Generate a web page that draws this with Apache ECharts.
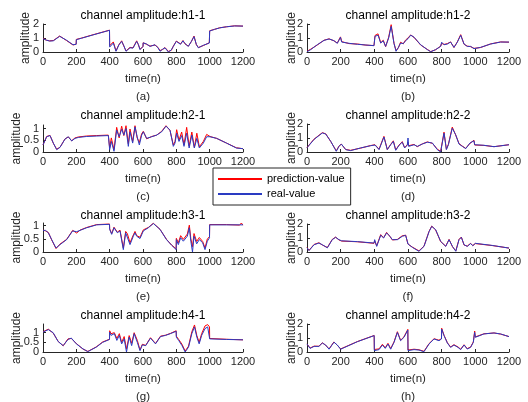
<!DOCTYPE html>
<html>
<head>
<meta charset="utf-8">
<title>channel amplitude</title>
<script src="https://cdn.jsdelivr.net/npm/echarts@6/dist/echarts.min.js"></script>
<style>
	html, body { margin: 0; padding: 0; background: #fff; }
	#main { width: 528px; height: 402px; }
</style>
</head>
<body>
<div id="main"></div>
<script>
// 子图标题与编号
var titles = ["channel amplitude:h1-1", "channel amplitude:h1-2", "channel amplitude:h2-1", "channel amplitude:h2-2",
	"channel amplitude:h3-1", "channel amplitude:h3-2", "channel amplitude:h4-1", "channel amplitude:h4-2"];
var captions = ["(a)", "(b)", "(c)", "(d)", "(e)", "(f)", "(g)", "(h)"];
var seriesNames = ["prediction-value", "real-value"];

// 刻度
var xTicks = [0, 200, 400, 600, 800, 1000, 1200];
var yTicksWhole = [0, 1, 2];
var yTicksHalf = [0, 0.5, 1];
var yMaxList = [2, 2, 1.15, 2, 1.1, 2, 1.45, 2];

// h1-1
var tA = [0,20,40,62,100,140,180,199,200,230,300,399,400,410,422,438,455,472,485,498,510,522,540,562,572,582,600,601,620,642,672,690,702,718,732,752,770,782,800,812,825,840,852,872,890,906,920,932,962,998,1000,1030,1060,1100,1150,1200];
var realA = [0.95,0.85,0.78,0.80,1.12,0.85,0.52,0.55,0.88,0.98,1.22,1.55,0.35,0.40,0.64,0.05,0.50,0.76,0.45,0.05,0.15,0.30,0.28,0.76,0.55,0.17,0.40,0.65,0.58,0.40,0.52,0.30,0.05,0.20,0.30,0.00,0.15,0.40,0.76,0.70,0.55,0.80,0.60,0.40,0.75,1.10,0.55,0.30,0.48,0.64,1.50,1.62,1.72,1.80,1.86,1.85];
var predA = [0.98,0.84,0.80,0.82,1.14,0.83,0.50,0.56,0.90,0.99,1.23,1.56,0.45,0.52,0.72,0.08,0.52,0.80,0.42,0.08,0.12,0.33,0.30,0.80,0.52,0.20,0.38,0.66,0.56,0.42,0.50,0.32,0.10,0.18,0.32,0.04,0.12,0.42,0.78,0.68,0.58,0.82,0.58,0.42,0.74,1.14,0.52,0.32,0.46,0.66,1.52,1.62,1.73,1.80,1.87,1.85];

// h1-2
var tB = [0,10,22,61,101,131,160,180,199,206,250,300,350,398,404,422,438,453,467,485,500,517,529,543,556,572,586,600,616,636,675,715,735,764,794,800,814,834,853,873,893,913,933,952,972,992,1031,1091,1150,1200];
var realB = [0.02,0.10,0.17,0.52,0.83,0.93,0.81,0.62,1.05,0.71,0.62,0.55,0.50,0.45,1.12,1.20,0.64,0.80,0.40,1.00,1.83,0.60,0.05,0.33,0.64,0.60,0.81,0.95,1.20,1.06,0.52,0.17,0.02,0.17,0.40,0.70,0.52,0.57,0.71,0.33,0.70,1.20,0.57,0.40,0.40,0.24,0.33,0.57,0.71,0.71];
var predB = [0.05,0.08,0.20,0.50,0.84,0.94,0.80,0.64,1.08,0.74,0.60,0.57,0.49,0.46,1.18,1.30,0.66,0.84,0.38,1.05,1.95,0.62,0.10,0.30,0.70,0.58,0.86,1.00,1.22,1.04,0.50,0.18,0.03,0.16,0.42,0.62,0.54,0.60,0.72,0.32,0.72,1.24,0.55,0.42,0.38,0.26,0.32,0.58,0.72,0.70];

// h2-1
var tC = [0,22,42,62,82,102,132,152,172,192,212,260,320,392,400,410,426,442,457,472,485,498,512,522,538,552,565,578,592,602,622,652,682,712,738,762,782,792,802,816,832,846,862,877,893,908,923,938,962,982,1002,1042,1101,1160,1200];
var realC = [0.30,0.65,0.70,0.38,0.10,0.20,0.55,0.65,0.47,0.58,0.62,0.66,0.68,0.70,0.10,0.45,0.03,0.93,0.65,0.97,0.72,1.00,0.24,0.86,0.38,1.07,0.65,0.30,0.72,0.86,0.58,0.65,0.72,0.86,1.10,0.93,0.24,0.38,0.80,0.45,0.70,0.24,0.80,0.17,0.72,0.17,0.58,0.17,0.38,0.65,0.65,0.58,0.38,0.17,0.14];
var predC = [0.30,0.66,0.71,0.37,0.12,0.20,0.56,0.64,0.48,0.60,0.64,0.68,0.70,0.72,0.18,0.60,0.10,1.05,0.60,1.10,0.70,1.12,0.35,0.98,0.45,1.12,0.60,0.40,0.78,0.88,0.56,0.66,0.72,0.88,1.12,0.92,0.30,0.45,0.95,0.50,0.85,0.30,1.05,0.25,0.85,0.20,0.80,0.22,0.45,0.75,0.66,0.58,0.38,0.18,0.14];

// h2-2
var tD = [0,42,91,111,141,174,190,204,230,259,319,378,404,428,457,477,497,513,527,547,566,580,596,600,604,612,636,655,685,715,745,774,794,814,828,840,863,883,903,923,943,968,992,996,1051,1111,1200];
var realD = [0.30,0.90,1.36,1.29,0.76,0.05,0.40,0.57,0.17,0.10,0.29,0.45,0.50,0.17,1.07,0.17,0.52,0.76,0.12,0.48,0.70,0.29,0.50,1.00,0.40,0.40,0.52,0.40,0.57,0.70,0.64,0.17,0.00,1.35,0.17,0.52,1.70,1.24,0.57,0.40,0.24,0.64,0.80,0.52,0.48,0.38,0.52];
var predD = [0.32,0.92,1.38,1.30,0.75,0.08,0.42,0.56,0.18,0.12,0.28,0.46,0.52,0.20,1.12,0.18,0.54,0.80,0.15,0.50,0.74,0.30,0.52,0.70,0.45,0.42,0.54,0.38,0.58,0.72,0.62,0.20,0.05,1.42,0.20,0.55,1.78,1.22,0.60,0.42,0.26,0.62,0.84,0.50,0.47,0.38,0.52];

// h3-1
var tE = [0,15,32,52,78,102,142,178,202,212,222,262,322,399,400,412,426,446,462,482,496,506,522,542,552,562,582,602,632,662,702,741,771,799,800,812,826,842,866,878,887,897,906,922,938,958,972,986,999,1000,1100,1180,1190,1200];
var realE = [0.82,0.82,0.73,0.47,0.15,0.28,0.47,0.80,0.77,0.72,0.82,0.92,1.03,1.05,0.86,0.67,0.92,0.73,0.80,0.09,0.73,0.67,0.28,0.60,0.73,0.60,0.51,0.80,0.92,1.08,0.86,0.47,0.26,0.09,0.47,0.28,0.54,0.41,0.60,0.92,0.41,0.00,0.60,0.31,0.47,0.35,0.09,0.41,0.54,1.03,1.03,1.03,1.03,1.03];
var predE = [0.83,0.80,0.74,0.46,0.13,0.30,0.48,0.82,0.72,0.74,0.83,0.93,1.04,1.06,0.88,0.70,0.94,0.75,0.83,0.15,0.78,0.70,0.35,0.65,0.78,0.62,0.56,0.84,0.93,1.09,0.86,0.48,0.27,0.12,0.52,0.35,0.62,0.48,0.68,1.02,0.50,0.20,0.70,0.40,0.55,0.40,0.15,0.50,0.58,1.04,1.04,1.02,1.10,1.02];

// h3-2
var tF = [0,12,42,71,91,121,150,170,190,206,300,398,402,414,438,455,473,493,507,537,566,586,600,626,665,695,725,741,764,794,824,844,864,884,903,917,933,952,972,985,996,1000,1100,1200];
var realF = [0.30,0.10,0.52,0.64,0.52,0.30,0.88,1.05,0.88,0.80,0.74,0.64,0.88,0.40,1.20,1.00,1.36,1.12,0.88,0.88,1.12,1.19,0.57,0.33,0.05,0.40,1.45,1.83,1.60,0.76,0.40,0.88,0.40,0.05,0.88,1.05,0.52,0.40,0.60,0.45,0.48,0.62,0.47,0.28];
var predF = [0.32,0.12,0.54,0.66,0.50,0.32,0.90,1.06,0.86,0.78,0.73,0.62,0.80,0.44,1.24,1.02,1.40,1.10,0.86,0.90,1.16,1.20,0.56,0.35,0.08,0.42,1.47,1.85,1.58,0.74,0.42,0.90,0.38,0.08,0.90,1.07,0.50,0.42,0.62,0.46,0.50,0.60,0.46,0.28];

// h4-1
var tG = [0,32,61,91,121,150,170,200,240,269,319,358,399,400,408,428,443,458,472,487,501,517,532,547,566,582,596,616,645,675,705,735,764,799,800,814,834,853,873,893,909,923,937,952,972,988,999,1000,1100,1200];
var realG = [1.03,1.16,1.00,0.54,0.33,0.65,0.72,0.42,0.16,0.02,0.25,0.50,0.65,1.03,0.86,0.95,0.60,0.86,0.42,0.68,0.00,0.77,0.33,0.95,0.50,0.07,0.37,0.33,0.72,0.42,0.80,0.86,0.95,1.07,0.77,0.60,0.33,0.00,0.25,0.95,1.30,0.77,0.42,0.86,1.21,1.30,1.25,0.68,0.65,0.63];
var predG = [1.05,1.18,0.98,0.55,0.32,0.68,0.70,0.44,0.15,0.03,0.26,0.52,0.66,1.10,0.95,1.00,0.70,0.95,0.50,0.80,0.15,0.85,0.45,1.00,0.60,0.10,0.40,0.34,0.74,0.44,0.82,0.87,0.96,1.10,0.82,0.65,0.40,0.05,0.30,1.05,1.40,0.85,0.50,0.95,1.35,1.42,1.30,0.70,0.66,0.63];

// h4-2
var tH = [0,18,42,71,91,111,131,160,180,200,210,300,399,400,428,448,465,481,497,517,537,556,576,599,600,636,665,695,725,755,784,799,800,814,834,853,873,897,913,933,952,972,988,996,1000,1051,1111,1150,1200];
var realH = [0.57,0.26,0.40,0.40,0.64,0.50,0.20,0.70,0.50,0.20,0.33,0.74,1.17,0.10,0.17,0.50,0.26,0.57,0.20,0.69,1.40,0.81,1.05,1.57,0.10,0.17,0.14,0.02,0.57,0.93,0.81,0.93,1.64,1.17,0.64,0.33,0.50,0.33,0.17,0.50,0.21,0.33,0.69,1.40,1.05,1.29,1.36,1.29,1.10];
var predH = [0.58,0.28,0.42,0.41,0.66,0.48,0.22,0.72,0.48,0.22,0.34,0.75,1.18,0.18,0.22,0.55,0.30,0.62,0.25,0.72,1.45,0.84,1.08,1.62,0.14,0.20,0.16,0.05,0.60,0.95,0.84,0.96,1.70,1.20,0.66,0.36,0.52,0.36,0.20,0.52,0.24,0.36,0.72,1.50,1.08,1.30,1.36,1.28,1.10];

var timeList = [tA, tB, tC, tD, tE, tF, tG, tH];
var realList = [realA, realB, realC, realD, realE, realF, realG, realH];
var predList = [predA, predB, predC, predD, predE, predF, predG, predH];

var channelChart = {
	font : "'Liberation Sans', Arial, Helvetica, sans-serif",
	axisColor : "#262626",
	colLeft : [43, 307],
	colWidth : [200, 202],
	rowTop : [0, 100, 200, 300],
	plotHeight : [28, 28, 27, 28, 29, 28, 28, 28],

	// 合并x与y
	toPairs : function(xs, ys) {
		var out = [];
		for (var i = 0; i < xs.length; i++) {
			out.push([xs[i], ys[i]]);
		}
		return out;
	},

	// 刻度文字不要千分位
	plainLabel : function(v) {
		return String(v);
	},

	labelStyle : function(values) {
		return { margin : 4, fontSize : 11, color : this.axisColor, fontFamily : this.font,
			customValues : values, formatter : this.plainLabel, hideOverlap : false,
			showMinLabel : true, showMaxLabel : true };
	},

	buildOption : function() {
		var self = this;
		var grids = [], xAxes = [], yAxes = [], series = [], titleList = [];
		var extraAxes = [];
		for (var i = 0; i < 8; i++) {
			var col = i % 2;
			var row = Math.floor(i / 2);
			var yMax = yMaxList[i];
			var plotH = self.plotHeight[i];
			var bottomY = self.rowTop[row] + 52;
			var yTicks = yMax < 1.8 ? yTicksHalf : yTicksWhole;
			var cx = self.colLeft[col] + self.colWidth[col] / 2;
			// 刻度太挤时，中间那个标签放到一根辅助轴上，免得被自动隐藏
			var tight = plotH * (yTicks[1] - yTicks[0]) / yMax < 11;
			var mainLabels = tight ? [yTicks[0], yTicks[2]] : yTicks;

			grids.push({
				left : self.colLeft[col],
				top : bottomY - plotH,
				width : self.colWidth[col],
				height : plotH
			});
			xAxes.push({
				type : "value",
				gridIndex : i,
				min : 0,
				max : 1200,
				interval : 200,
				name : "time(n)",
				nameLocation : "middle",
				nameGap : 21,
				nameMoveOverlap : false,
				nameTextStyle : { fontSize : 11.5, color : self.axisColor, fontFamily : self.font },
				axisLine : { lineStyle : { color : self.axisColor, width : 1 } },
				axisTick : { inside : true, length : 3, lineStyle : { color : self.axisColor } },
				axisLabel : self.labelStyle(xTicks),
				splitLine : { show : false }
			});
			yAxes.push({
				type : "value",
				gridIndex : i,
				min : 0,
				max : yMax,
				name : "amplitude",
				nameLocation : "middle",
				nameRotate : 90,
				nameGap : col == 1 ? 9 : (yTicks === yTicksHalf ? 20 : 11),
				nameMoveOverlap : false,
				nameTextStyle : { fontSize : 12, color : self.axisColor, fontFamily : self.font },
				axisLine : { show : true, lineStyle : { color : self.axisColor, width : 1 } },
				axisTick : { show : true, inside : true, length : 3, customValues : yTicks, lineStyle : { color : self.axisColor } },
				axisLabel : self.labelStyle(mainLabels),
				splitLine : { show : false }
			});
			if (tight) {
				extraAxes.push({
					type : "value",
					gridIndex : i,
					position : "left",
					min : 0,
					max : yMax,
					axisLine : { show : false },
					axisTick : { show : false },
					axisLabel : self.labelStyle([yTicks[1]]),
					splitLine : { show : false }
				});
			}
			series.push({
				name : seriesNames[0],
				type : "line",
				xAxisIndex : i,
				yAxisIndex : i,
				data : self.toPairs(timeList[i], predList[i]),
				showSymbol : false,
				symbol : "none",
				lineStyle : { color : "#ff0000", width : 1 },
				itemStyle : { color : "#ff0000" }
			});
			series.push({
				name : seriesNames[1],
				type : "line",
				xAxisIndex : i,
				yAxisIndex : i,
				data : self.toPairs(timeList[i], realList[i]),
				showSymbol : false,
				symbol : "none",
				lineStyle : { color : "#2a3bc2", width : 1 },
				itemStyle : { color : "#2a3bc2" }
			});
			titleList.push({
				text : titles[i],
				left : cx,
				top : self.rowTop[row] + 16,
				textAlign : "center",
				textVerticalAlign : "middle",
				padding : 0,
				textStyle : { fontSize : 12, fontWeight : "normal", color : "#000", fontFamily : self.font }
			});
			titleList.push({
				text : captions[i],
				left : cx,
				top : self.rowTop[row] + 97,
				textAlign : "center",
				textVerticalAlign : "middle",
				padding : 0,
				textStyle : { fontSize : 11.5, fontWeight : "normal", color : self.axisColor, fontFamily : self.font }
			});
		}

		return {
			backgroundColor : "#fff",
			animation : false,
			title : titleList,
			legend : {
				data : seriesNames,
				orient : "vertical",
				left : 213,
				top : 168,
				padding : [4, 6, 4, 5],
				itemGap : 1,
				itemWidth : 44,
				itemHeight : 2,
				icon : "rect",
				backgroundColor : "#fff",
				borderColor : self.axisColor,
				borderWidth : 1,
				borderRadius : 0,
				textStyle : { fontSize : 11, color : "#000", fontFamily : self.font, lineHeight : 14 }
			},
			grid : grids,
			xAxis : xAxes,
			yAxis : yAxes.concat(extraAxes),
			series : series
		};
	},

	init : function() {
		var myChart = echarts.init(document.getElementById("main"), null, { renderer : "canvas" });
		myChart.setOption(this.buildOption());
	}
};

channelChart.init();
</script>
</body>
</html>
